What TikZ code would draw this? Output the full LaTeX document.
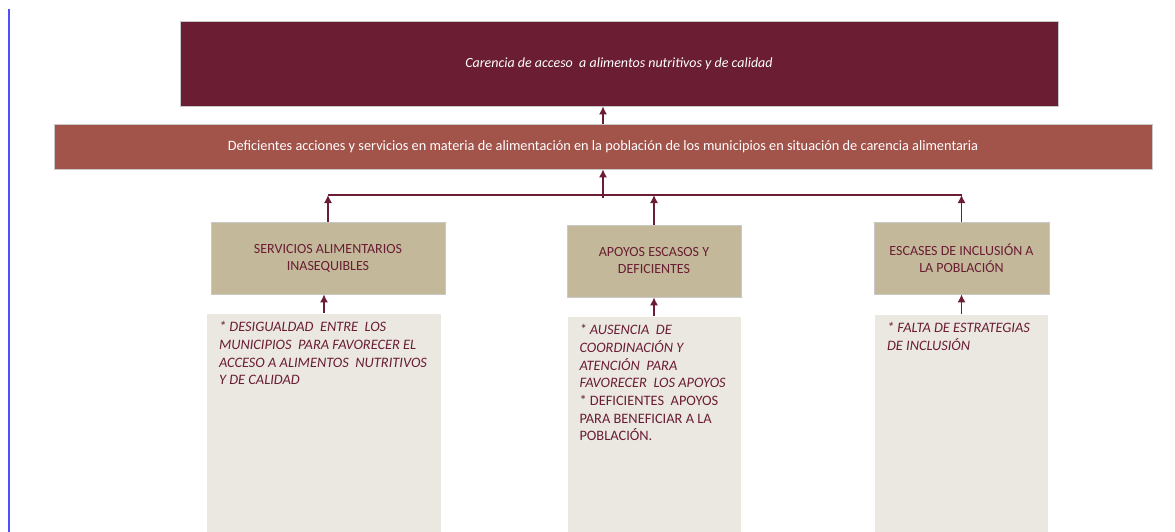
\documentclass[tikz,border=0pt]{standalone}
\usepackage{fontspec}
\setmainfont{Carlito}
\usetikzlibrary{positioning, arrows.meta}
\definecolor{vino}{RGB}{106,29,51}
\definecolor{ladrillo}{RGB}{162,83,74}
\definecolor{arena}{RGB}{195,185,154}
\definecolor{hueso}{RGB}{235,232,226}
\definecolor{borde}{RGB}{200,200,200}
\definecolor{margen}{RGB}{80,80,250}

\begin{document}
\begin{tikzpicture}[x=1pt, y=-1pt, node distance=19pt,
	caja/.style={draw=borde, line width=0.8pt, inner sep=0pt},
	efecto/.style={caja, fill=vino, text=white, minimum width=878pt, minimum height=85pt, font=\fontsize{14}{17}\selectfont\itshape},
	problema/.style={caja, fill=ladrillo, text=white, minimum width=1098pt, minimum height=45pt, font=\fontsize{14.3}{17}\selectfont},
	causa/.style={caja, fill=arena, text=vino, minimum height=72pt, align=center, font=\fontsize{14}{17}\selectfont},
	detalle/.style={fill=hueso, text=vino, inner sep=0pt, anchor=north, font=\fontsize{14.4}{17.7}\selectfont},
	flecha/.style={draw=vino, line width=1.2pt, -{Latex[length=8pt,width=8pt]}}]
	\useasboundingbox (0,0) rectangle (1175,532);
	\draw[margen, line width=1.3pt] (9,9) -- (9,532);
	\node[efecto] (efecto) at (619,63.5) {Carencia de acceso \ a alimentos nutritivos y de calidad};
	\node[problema] (problema) at (603,146.5) {Deficientes acciones y servicios en materia de alimentación en la población de los municipios en situación de carencia alimentaria};
	\node[causa, minimum width=234pt] (causa1) at (328,258) {SERVICIOS ALIMENTARIOS\\INASEQUIBLES};
	\node[causa, minimum width=174pt] (causa2) at (654,261) {APOYOS ESCASOS Y\\DEFICIENTES};
	\node[causa, minimum width=175pt] (causa3) at (961.5,258) {ESCASES DE INCLUSIÓN A\\LA POBLACIÓN};
	\node[detalle, below=19pt of causa1, xshift=-4pt] (detalle1) {\parbox[t][219pt][t]{234pt}{\leftskip=12pt\itshape\rule{0pt}{18pt}* DESIGUALDAD \ ENTRE \ LOS\\MUNICIPIOS \ PARA FAVORECER EL\\ACCESO A ALIMENTOS \ NUTRITIVOS\\Y DE CALIDAD}};
	\node[detalle, below=19pt of causa2] (detalle2) {\parbox[t][216pt][t]{173pt}{\leftskip=12pt\rule{0pt}{18pt}\textit{* AUSENCIA \ DE}\\\textit{COORDINACIÓN Y}\\\textit{ATENCIÓN \ PARA}\\\textit{FAVORECER \ LOS APOYOS}\\{}* DEFICIENTES \ APOYOS\\PARA BENEFICIAR A LA\\POBLACIÓN.}};
	\node[detalle, below=20pt of causa3] (detalle3) {\parbox[t][218pt][t]{173pt}{\leftskip=12pt\itshape\rule{0pt}{18pt}* FALTA DE ESTRATEGIAS\\DE INCLUSIÓN}};
	\coordinate (union) at (603,195);
	\draw[vino, line width=1.2pt] (causa1.north |- union) -- (causa3.north |- union);
	\draw[flecha] ([yshift=-3pt]union) -- (problema.south);
	\draw[flecha] (problema.north) -- (problema.north |- efecto.south);
	\draw[flecha] (causa1.north) -- (causa1.north |- union);
	\draw[flecha] (causa2.north) -- (causa2.north |- union);
	\draw[flecha] (causa3.north) -- (causa3.north |- union);
	\draw[flecha] (detalle1.north) -- (detalle1.north |- causa1.south);
	\draw[flecha] (detalle2.north) -- (detalle2.north |- causa2.south);
	\draw[flecha] (detalle3.north) -- (detalle3.north |- causa3.south);
\end{tikzpicture}
\end{document}
